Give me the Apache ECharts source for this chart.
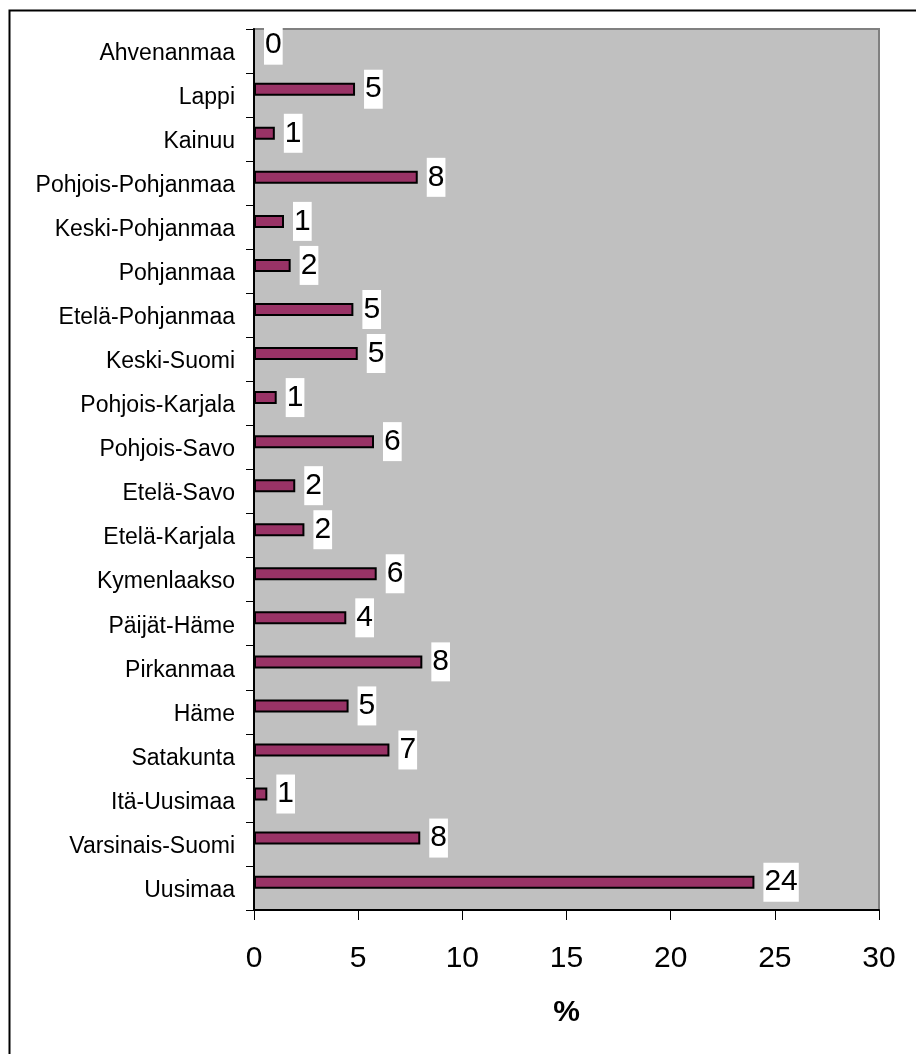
<!DOCTYPE html>
<html>
<head>
    <meta charset="utf-8">
    <title>Maakunnat %</title>
    <script src="https://cdn.jsdelivr.net/npm/echarts@6/dist/echarts.min.js"></script>
    <style>
        html, body { margin: 0; padding: 0; background: #fff; }
        #main { width: 916px; height: 1054px; }
    </style>
</head>
<body>
<div id="main"></div>
<script type="text/javascript">
    // maakunnat ylhäältä alas
    var categories = ['Ahvenanmaa', 'Lappi', 'Kainuu', 'Pohjois-Pohjanmaa', 'Keski-Pohjanmaa',
        'Pohjanmaa', 'Etelä-Pohjanmaa', 'Keski-Suomi', 'Pohjois-Karjala', 'Pohjois-Savo',
        'Etelä-Savo', 'Etelä-Karjala', 'Kymenlaakso', 'Päijät-Häme', 'Pirkanmaa',
        'Häme', 'Satakunta', 'Itä-Uusimaa', 'Varsinais-Suomi', 'Uusimaa'];
    var values = [0, 4.85, 1.0, 7.86, 1.44,
        1.76, 4.77, 4.98, 1.09, 5.76,
        1.98, 2.42, 5.89, 4.43, 8.08,
        4.54, 6.5, 0.64, 7.98, 24.02];
    // toinen sarja on tyhjä (alkuperäisessä kaaviossa palkit ovat siirtyneet ylös)
    var emptyValues = categories.map(function () { return null; });
    var xTicks = [0, 5, 10, 15, 20, 25, 30];

    var font = 'Liberation Sans, Arial, sans-serif';
    var myChart = echarts.init(document.getElementById('main'));
    var option = {
        backgroundColor: '#ffffff',
        animation: false,
        graphic: [{
            type: 'rect',
            left: 7, top: 8,
            shape: { width: 1000, height: 1100 },
            style: { fill: 'none', stroke: '#000', lineWidth: 2 }
        }],
        grid: {
            left: 254, right: 37, top: 29, bottom: 144,
            show: true,
            backgroundColor: '#C0C0C0',
            borderColor: '#808080',
            borderWidth: 2
        },
        xAxis: {
            type: 'value',
            min: xTicks[0], max: xTicks[xTicks.length - 1], interval: 5,
            name: '%',
            nameLocation: 'middle',
            nameGap: 88,
            nameTextStyle: { fontFamily: font, fontSize: 30, fontWeight: 'bold', color: '#000' },
            axisLine: { show: true, lineStyle: { color: '#000', width: 2 } },
            axisTick: { show: true, length: 10, lineStyle: { color: '#000', width: 1 } },
            splitLine: { show: false },
            axisLabel: { fontFamily: font, fontSize: 30, color: '#000', margin: 34 }
        },
        yAxis: {
            type: 'category',
            data: categories,
            inverse: true,
            axisLine: { show: true, lineStyle: { color: '#000', width: 2 } },
            axisTick: { show: true, length: 8, lineStyle: { color: '#000', width: 1 } },
            axisLabel: {
                margin: 19,
                formatter: function (v) { return '{c|' + v + '}'; },
                rich: {
                    c: { fontFamily: font, fontSize: 23, color: '#000', padding: [5, 0, 0, 0] }
                }
            }
        },
        series: [
            {
                name: '%',
                type: 'bar',
                data: values,
                barWidth: 13,
                barGap: '-10%',
                itemStyle: { color: '#993366', borderColor: '#000', borderWidth: 2 },
                label: {
                    show: true,
                    position: 'right',
                    distance: 9,
                    formatter: function (p) { return Math.round(p.value); },
                    fontFamily: font,
                    fontSize: 30,
                    color: '#000',
                    backgroundColor: '#fff',
                    lineHeight: 34,
                    padding: [3, 1, 2, 1]
                }
            },
            {
                name: '',
                type: 'bar',
                data: emptyValues,
                barWidth: 13,
                itemStyle: { color: '#993366' }
            }
        ]
    };
    myChart.setOption(option);
</script>
</body>
</html>
